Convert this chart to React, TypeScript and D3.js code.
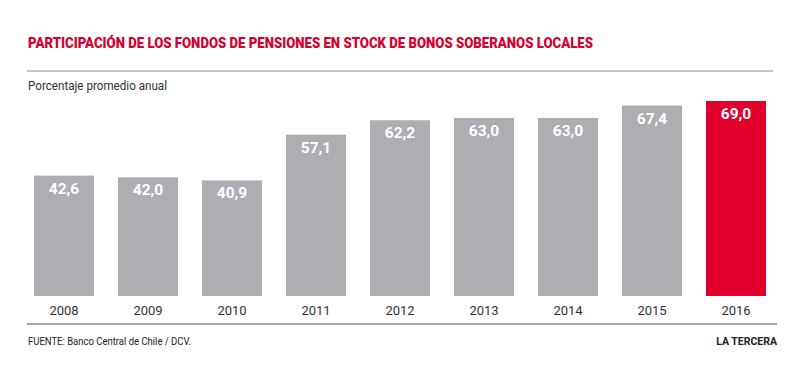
import React from "react";
import * as d3 from "d3";

const years = ["2008", "2009", "2010", "2011", "2012", "2013", "2014", "2015", "2016"];
const values = [42.6, 42.0, 40.9, 57.1, 62.2, 63.0, 63.0, 67.4, 69.0];
const labels = ["42,6", "42,0", "40,9", "57,1", "62,2", "63,0", "63,0", "67,4", "69,0"];
const highlight = ["2016"];

const W = 800;
const H = 376;
const FONT = "Roboto, 'Open Sans', sans-serif";

export default function App() {
  const x = d3
    .scaleBand<string>()
    .domain(years)
    .range([22, 778])
    .paddingInner(2 / 7)
    .paddingOuter(1 / 7);
  const y = d3.scaleLinear().domain([0, 69]).range([296, 101]);

  return (
    <svg
      width={W}
      height={H}
      style={{ position: "absolute", left: 0, top: 0, background: "#fff" }}
    >
      <text
        x={28}
        y={48}
        fill="#D6002F"
        fontFamily={FONT}
        fontWeight={900}
        fontSize={15}
        textLength={565}
        lengthAdjust="spacingAndGlyphs"
      >
        PARTICIPACIÓN DE LOS FONDOS DE PENSIONES EN STOCK DE BONOS SOBERANOS LOCALES
      </text>
      <line x1={27} x2={773} y1={71} y2={71} stroke="#8a8a8a" strokeWidth={1.2} />
      <text
        x={28}
        y={90}
        fill="#333"
        fontFamily={FONT}
        fontSize={12.5}
        textLength={139}
        lengthAdjust="spacingAndGlyphs"
      >
        Porcentaje promedio anual
      </text>

      {years.map((yr, i) => {
        const bx = x(yr)!;
        const bw = x.bandwidth();
        const top = y(values[i]);
        const isHi = highlight.includes(yr);
        return (
          <g key={yr}>
            <rect
              x={bx}
              y={top}
              width={bw}
              height={y(0) - top}
              fill={isHi ? "#E0002B" : "#AEADB2"}
            />
            <text
              x={bx + bw / 2}
              y={top + 18}
              textAnchor="middle"
              fill="#fff"
              fontFamily={FONT}
              fontWeight={700}
              fontSize={15.5}
            >
              {labels[i]}
            </text>
            <text
              x={bx + bw / 2}
              y={315}
              textAnchor="middle"
              fill="#333"
              fontFamily={FONT}
              fontSize={13}
            >
              {yr}
            </text>
          </g>
        );
      })}

      <line x1={27} x2={777} y1={324} y2={324} stroke="#8a8a8a" strokeWidth={1.5} />
      <text
        x={28}
        y={345}
        fill="#222"
        fontFamily={FONT}
        fontSize={10.5}
        textLength={163}
        lengthAdjust="spacingAndGlyphs"
      >
        FUENTE: Banco Central de Chile / DCV.
      </text>
      <text
        x={777}
        y={345}
        textAnchor="end"
        fill="#222"
        fontFamily={FONT}
        fontWeight={700}
        fontSize={10.5}
      >
        LA TERCERA
      </text>
    </svg>
  );
}
